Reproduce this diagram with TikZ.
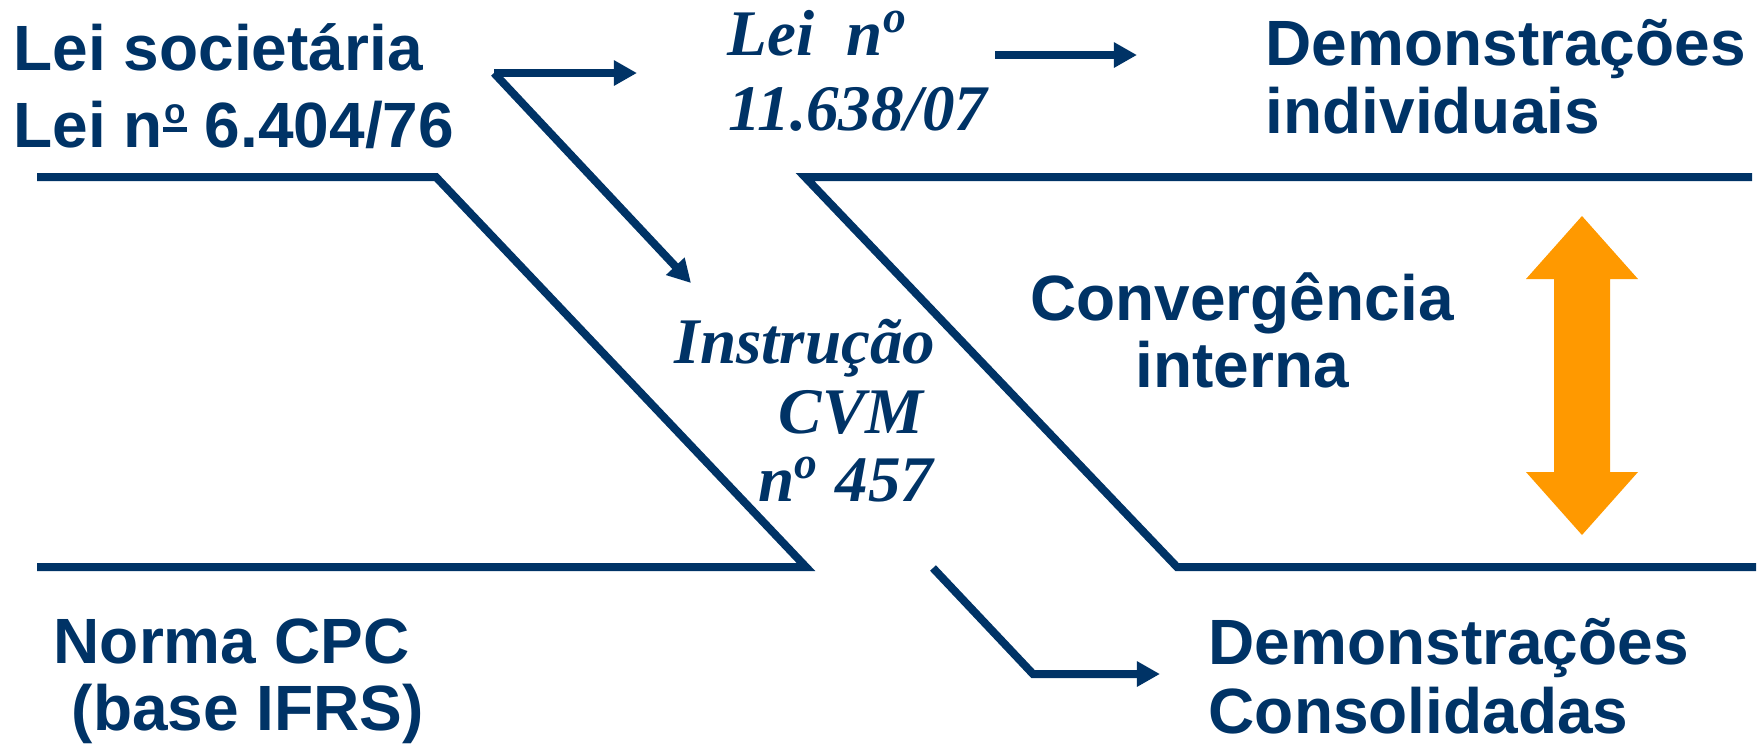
\documentclass[tikz,border=0pt]{standalone}
\usepackage{fontspec}
\setsansfont{Liberation Sans}
\setmainfont{Liberation Serif}
\usetikzlibrary{arrows.meta}
\definecolor{navy}{RGB}{0,51,102}
\definecolor{amber}{RGB}{255,153,0}
\newcommand{\ordo}{\rlap{\rule[0.23em]{0.38em}{0.08em}}\hspace{0.02em}\raisebox{0.36em}{\fontsize{10}{10}\selectfont o}\hspace{0.02em}}

\begin{document}
\begin{tikzpicture}[x=0.01cm, y=-0.01cm,
		sanslbl/.style={font=\sffamily\bfseries\fontsize{18.2}{22}\selectfont, text=navy, inner sep=0pt, anchor=base west},
		seriflbl/.style={font=\rmfamily\bfseries\itshape\fontsize{18.5}{22}\selectfont, text=navy, inner sep=0pt, anchor=base west},
		rule/.style={draw=navy, line width=0.08cm},
		pointer/.style={rule, -{Triangle[length=0.23cm, width=0.24cm]}}]
	\useasboundingbox (0,0) rectangle (1762,744);

	% labels
	\node[sanslbl] (soc1) at (13,70) {Lei societária};
	\node[sanslbl] (soc2) at (13,147) {Lei n\ordo\ 6.404/76};
	\node[seriflbl] (lei1) at (727,55) {Lei~~n\textsuperscript{o}};
	\node[seriflbl] (lei2) at (728,130) {11.638/07};
	\node[sanslbl] (ind1) at (1265,65) {Demonstrações};
	\node[sanslbl] (ind2) at (1265,133) {individuais};
	\node[sanslbl, anchor=base] (conv1) at (1242,320) {Convergência};
	\node[sanslbl, anchor=base] (conv2) at (1242,387) {interna};
	\node[seriflbl, anchor=base east] (cvm1) at (936,363) {Instrução};
	\node[seriflbl, anchor=base east] (cvm2) at (924,433) {CVM};
	\node[seriflbl, anchor=base east] (cvm3) at (934,501) {n\textsuperscript{o} 457};
	\node[sanslbl] (cpc1) at (53,663) {Norma CPC};
	\node[sanslbl] (cpc2) at (71,730) {(base IFRS)};
	\node[sanslbl] (con1) at (1208,664) {Demonstrações};
	\node[sanslbl] (con2) at (1208,733) {Consolidadas};

	% the two bands
	\draw[rule] (37,177) -- (436,177) -- (806,567) -- (37,567);
	\draw[rule] (1752,177) -- (805,177) -- (1177,567) -- (1756,567);

	% arrows
	\coordinate (socCorner) at (494,73);
	\coordinate (leiTip) at (637,73);
	\coordinate (cvmTip) at (691,283);
	\coordinate (indStart) at (995,55);
	\coordinate (indTip) at (1137,55);
	\coordinate (conStart) at (933,568);
	\coordinate (conBend) at (1033,674);
	\coordinate (conTip) at (1160,674);
	\draw[pointer] (socCorner) -- (leiTip);
	\draw[pointer] (socCorner) -- (cvmTip);
	\draw[pointer] (indStart) -- (indTip);
	\draw[pointer] (conStart) -- (conBend) -- (conTip);

	% convergence arrow
	\fill[amber] (1582,216) -- (1638,279) -- (1610,279) -- (1610,472) -- (1638,472)
		-- (1582,535) -- (1526,472) -- (1554,472) -- (1554,279) -- (1526,279) -- cycle;
\end{tikzpicture}
\end{document}
